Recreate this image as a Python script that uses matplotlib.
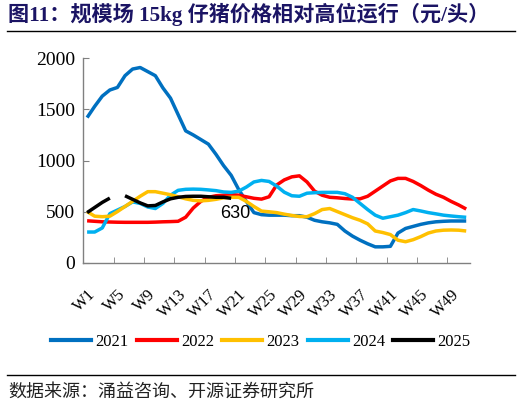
import numpy as np
import matplotlib.pyplot as plt
from matplotlib.lines import Line2D

# 周次 W1-W51
weeks = [f"W{i}" for i in range(1, 52)]

y2021 = [1420, 1530, 1630, 1690, 1715, 1830, 1895, 1910, 1870, 1830, 1710, 1610, 1450,
         1290, 1250, 1205, 1160, 1060, 950, 855, 715, 600, 490, 470, 465, 465, 465, 460,
         460, 445, 415, 400, 390, 375, 310, 260, 220, 185, 155, 155, 160, 290, 335, 355,
         375, 390, 400, 405, 408, 408, 408]
y2022 = [410, 405, 400, 398, 396, 395, 395, 395, 395, 397, 400, 402, 405, 445, 535, 600,
         640, 655, 660, 668, 660, 645, 630, 622, 645, 760, 810, 840, 850, 790, 700, 660,
         640, 635, 628, 623, 625, 650, 700, 750, 800, 825, 825, 795, 755, 710, 670, 640,
         600, 565, 525]
y2023 = [500, 455, 450, 455, 500, 550, 600, 650, 695, 695, 680, 665, 645, 625, 610, 605,
         610, 620, 635, 640, 640, 600, 550, 505, 498, 490, 475, 462, 452, 450, 480, 520,
         530, 500, 470, 440, 415, 380, 310, 295, 275, 220, 205, 225, 255, 290, 310, 318,
         320, 318, 310]
y2024 = [300, 300, 340, 480, 515, 550, 595, 580, 545, 530, 580, 660, 708, 718, 720, 718,
         712, 705, 692, 688, 700, 740, 790, 805, 795, 750, 690, 655, 650, 680, 685, 688,
         688, 688, 675, 640, 580, 520, 465, 435, 450, 465, 490, 520, 506, 490, 478, 465,
         457, 450, 444]
y2025 = [490, 540, 590, 632, np.nan, 655, 620, 585, 556, 560, 595, 625, 640, 648, 650,
         650, 645, 640, 640, 630]

years = ["2021", "2022", "2023", "2024", "2025"]
colors = ["#0070C0", "#FF0000", "#FFC000", "#00B0F0", "#000000"]
series = [y2021, y2022, y2023, y2024, y2025]
zorders = [2, 3, 5, 4, 6]

plt.rcParams['font.family'] = ['Liberation Serif', 'Noto Sans CJK SC']

fig = plt.figure(figsize=(5.22, 4.05), dpi=100)
ax = fig.add_axes([0.1596, 0.3514, 0.9004 - 0.1596, 0.856 - 0.3514])

for yr, col, vals, zo in zip(years, colors, series, zorders):
    x = np.arange(len(vals))
    ax.plot(x, vals, color=col, lw=2.5, zorder=zo, solid_capstyle='butt')

# 2025 最新值标注
last_i = len(y2025) - 1
ax.annotate(f"{y2025[-1]:.0f}", xy=(last_i, y2025[-1]), xytext=(3, -11),
            textcoords='offset points', ha='center', va='center',
            fontsize=13, family='Liberation Sans', zorder=7)

ax.set_xlim(-0.5, len(weeks) - 0.5)
ax.set_ylim(0, 2000)
ax.set_yticks([0, 500, 1000, 1500, 2000])
ax.tick_params(axis='y', direction='in', length=4, labelsize=14, color='#808080', pad=6)

lab_pos = np.arange(0, len(weeks), 4)
ax.set_xticks(lab_pos)
ax.set_xticklabels([weeks[i] for i in lab_pos], rotation=45, ha='right',
                   rotation_mode='anchor', fontsize=12)
ax.tick_params(axis='x', which='major', length=0, pad=17)
ax.set_xticks(np.arange(3.5, len(weeks) - 1, 4), minor=True)
ax.tick_params(axis='x', which='minor', direction='in', length=4, color='#808080')

for s in ['top', 'right']:
    ax.spines[s].set_visible(False)
for s in ['left', 'bottom']:
    ax.spines[s].set_color('#808080')
    ax.spines[s].set_linewidth(1.0)

handles = [Line2D([], [], color=c, lw=3) for c in colors]
fig.legend(handles, years, loc='center', bbox_to_anchor=(0.5, 1 - 341.7 / 405),
           ncol=5, frameon=False, fontsize=12, handlelength=2.4,
           handletextpad=0.25, columnspacing=0.5)

# 标题与来源
fig.text(8 / 522, 1 - 14 / 405, "图11：规模场 15kg 仔猪价格相对高位运行（元/头）",
         fontsize=15.2, fontweight='bold', color='#1B1464', va='center', ha='left')
fig.add_artist(Line2D([7 / 522, 515 / 522], [1 - 31 / 405, 1 - 31 / 405],
                      color='black', lw=1.0))
fig.add_artist(Line2D([7 / 522, 515 / 522], [1 - 375 / 405, 1 - 375 / 405],
                      color='black', lw=1.0))
fig.text(8 / 522, 1 - 392 / 405, "数据来源：涌益咨询、开源证券研究所",
         fontsize=13, color='#222222', va='center', ha='left')

fig.savefig("out.png", dpi=100)
